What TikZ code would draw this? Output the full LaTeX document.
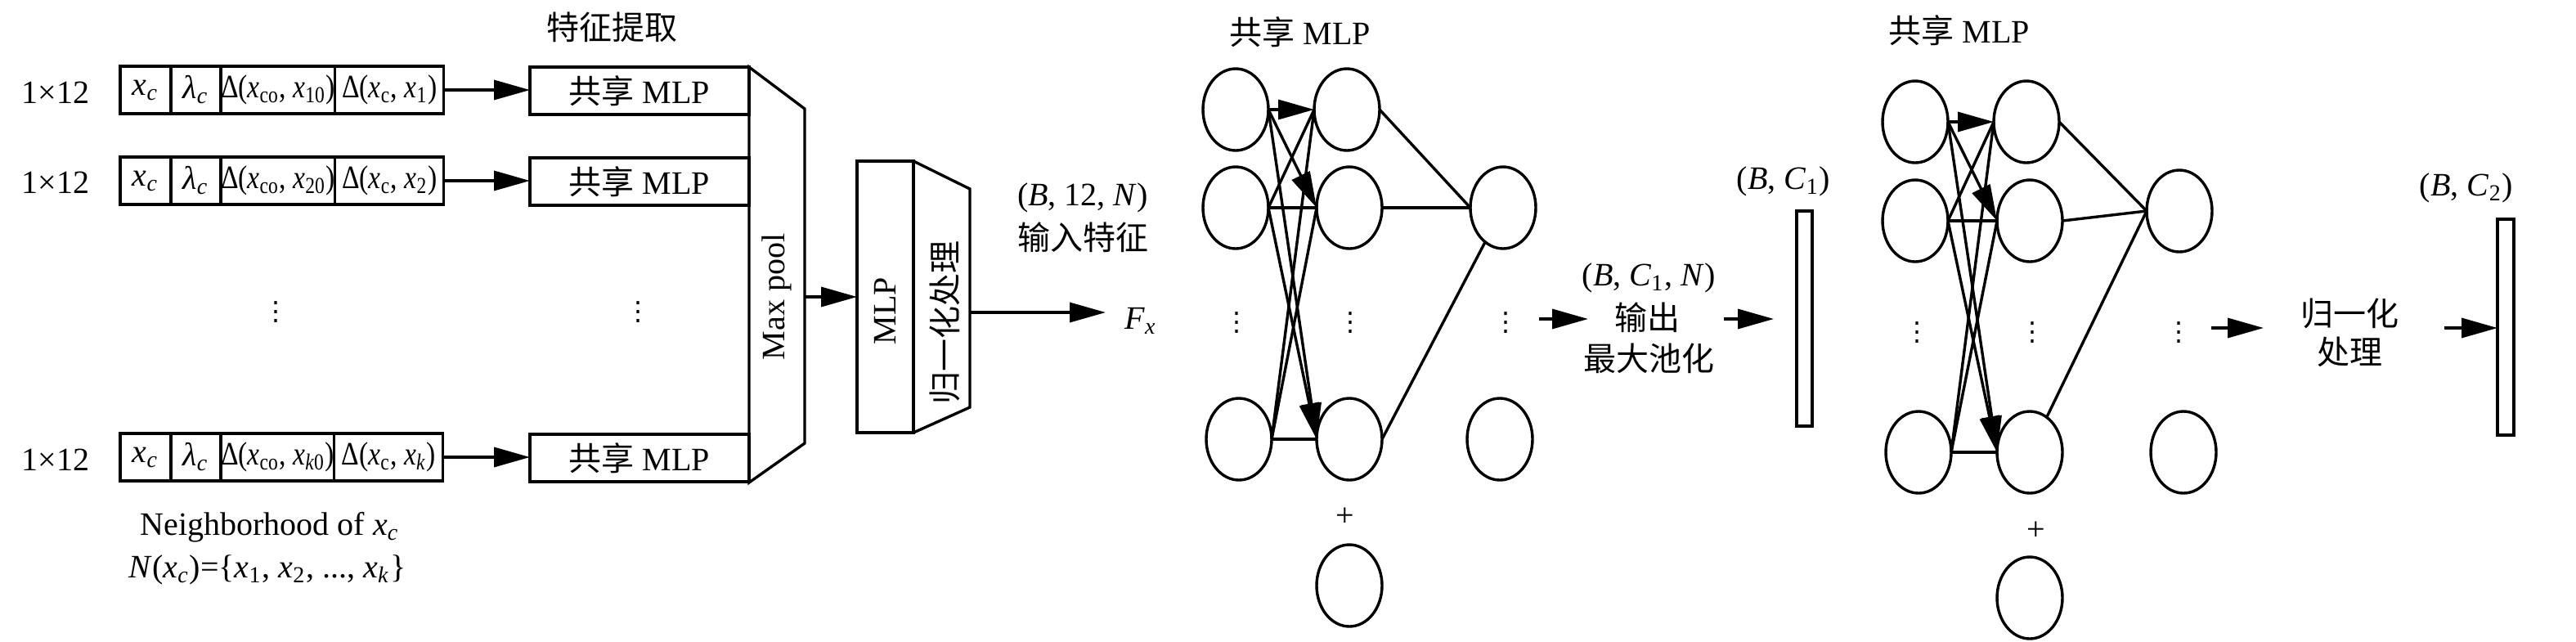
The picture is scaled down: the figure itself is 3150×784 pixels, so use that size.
\documentclass[tikz,border=0pt]{standalone}
\usepackage{graphicx}
\usepackage{fontspec}
\setmainfont{Liberation Serif}
\newfontfamily\cjk{Noto Sans CJK SC}
\newfontfamily\dvs{DejaVu Sans}
\usetikzlibrary{arrows.meta,shapes.geometric}
\newcommand{\vi}[1]{\textit{#1}}
\newcommand{\sbs}[1]{\textsubscript{#1}}
\newcommand{\cond}[1]{\scalebox{0.84}[1]{#1}}
\newcommand{\vdts}{{\dvs\fontsize{8}{8}\selectfont ⋮}}
\tikzset{
  lw/.style={line width=0.85pt},
  box/.style={draw, lw, inner sep=0pt, outer sep=0pt, minimum height=14.5pt},
  neuron/.style={draw, lw, ellipse, minimum width=20pt, minimum height=25pt, inner sep=0pt, outer sep=0pt},
  arr/.style={lw, -{Triangle[length=11pt,width=6pt]}},
  link/.style={lw},
  txt/.style={inner sep=0pt, outer sep=0pt, align=center},
  dts/.style={inner sep=0pt},
}
\begin{document}
\begin{tikzpicture}[x=0.25pt,y=-0.25pt,font=\fontsize{10}{12}\selectfont]
\useasboundingbox (0,0) rectangle (3150,784);

% ---------- feature extraction ----------
\node[txt] (title) at (748,33) {\cjk 特征提取};

% row 1
\node[txt] (l1) at (68,113) {1×12};
\node[box, minimum width=15.5pt, anchor=west] (r1a) at (147,110) {\vi{x}\sbs{\vi{c}}};
\node[box, minimum width=15.25pt, anchor=west] (r1b) at (r1a.east) {\vi{λ}\sbs{\vi{c}}};
\node[box, minimum width=33.75pt, anchor=west] (r1c) at (r1b.east) {\cond{Δ(\vi{x}\sbs{co}, \vi{x}\sbs{10})}};
\node[box, minimum width=33.25pt, anchor=west] (r1d) at (r1c.east) {\cond{Δ(\vi{x}\sbs{c}, \vi{x}\sbs{1})}};
\node[box, minimum width=67pt] (m1) at (782,111) {{\cjk 共享} MLP};
\draw[arr] (r1d.east) -- (r1d.east -| m1.west);

% row 2
\node[txt] (l2) at (68,223) {1×12};
\node[box, minimum width=15.5pt, anchor=west] (r2a) at (147,221) {\vi{x}\sbs{\vi{c}}};
\node[box, minimum width=15.25pt, anchor=west] (r2b) at (r2a.east) {\vi{λ}\sbs{\vi{c}}};
\node[box, minimum width=33.75pt, anchor=west] (r2c) at (r2b.east) {\cond{Δ(\vi{x}\sbs{co}, \vi{x}\sbs{20})}};
\node[box, minimum width=33.25pt, anchor=west] (r2d) at (r2c.east) {\cond{Δ(\vi{x}\sbs{c}, \vi{x}\sbs{2})}};
\node[box, minimum width=67pt] (m2) at (782,222) {{\cjk 共享} MLP};
\draw[arr] (r2d.east) -- (r2d.east -| m2.west);

% dots
\node[dts] (d1) at (337,382) {\vdts};
\node[dts] (d2) at (780,382) {\vdts};

% row k
\node[txt] (l3) at (68,562) {1×12};
\node[box, minimum width=15.5pt, anchor=west] (r3a) at (147,559) {\vi{x}\sbs{\vi{c}}};
\node[box, minimum width=15.25pt, anchor=west] (r3b) at (r3a.east) {\vi{λ}\sbs{\vi{c}}};
\node[box, minimum width=33.75pt, anchor=west] (r3c) at (r3b.east) {\cond{Δ(\vi{x}\sbs{co}, \vi{x}\sbs{\vi{k}0})}};
\node[box, minimum width=33.25pt, anchor=west] (r3d) at (r3c.east) {\cond{Δ(\vi{x}\sbs{c}, \vi{x}\sbs{\vi{k}})}};
\node[box, minimum width=67pt] (m3) at (782,560) {{\cjk 共享} MLP};
\draw[arr] (r3d.east) -- (r3d.east -| m3.west);

\node[txt] (nb1) at (330,645) {Neighborhood of \vi{x}\sbs{\vi{c}}};
\node[txt] (nb2) at (327,697) {\vi{N}(\vi{x}\sbs{\vi{c}})=\{\vi{x}\sbs{1}, \vi{x}\sbs{2}, ..., \vi{x}\sbs{\vi{k}}\}};

% max pool
\draw[lw, line join=miter] (916,82) -- (984,133) -- (984,542) -- (916,590) -- cycle;
\node[txt, rotate=90] (mp) at (950,363) {Max pool};
\coordinate (mpout) at (984,363);

% MLP + normalisation
\node[box, minimum width=17.25pt, minimum height=83pt] (mlp) at (1082.5,363) {};
\node[txt, rotate=90] (mlpt) at (1082,380) {MLP};
\draw[lw, line join=miter] (mlp.north east) -- (1186,231) -- (1186,498) -- (mlp.south east);
\node[txt, rotate=90] (norm1) at (1155,394) {\cjk 归一化处理};
\draw[arr] (mpout) -- (mpout -| mlp.west);

\coordinate (nout) at (1186,382);
\node[txt] (fx) at (1395,392) {\vi{F}\sbs{\vi{x}}};
\coordinate (fxin) at (1352,382);
\draw[arr] (nout) -- (fxin);
\node[txt] (in1) at (1324,242) {(\vi{B}, 12, \vi{N})};
\node[txt] (in2) at (1324,290) {\cjk 输入特征};

% ---------- network 1 ----------
\node[txt] (n1t) at (1590,39) {{\cjk 共享} MLP};
\node[neuron] (a1) at (1511,134) {};
\node[neuron] (a2) at (1511,254) {};
\node[neuron] (a3) at (1515,537) {};
\node[neuron] (b1) at (1647,134) {};
\node[neuron] (b2) at (1650,254) {};
\node[neuron] (b3) at (1650,537) {};
\node[neuron] (c2) at (1838,254) {};
\node[neuron] (c3) at (1834,537) {};
\node[neuron] (bb) at (1650,716) {};
\node[txt] (plus1) at (1645,632) {+};
\node[dts] (da) at (1512,395) {\vdts};
\node[dts] (db) at (1651,395) {\vdts};
\node[dts] (dc) at (1841,395) {\vdts};

\draw[arr] (a1.east) -- (b1.west);
\draw[arr] (a1.east) -- (b2.west);
\draw[arr] (a1.east) -- (b3.west);
\draw[link] (a2.east) -- (b1.west);
\draw[link] (a2.east) -- (b2.west);
\draw[arr] (a2.east) -- (b3.west);
\draw[link] (a3.east) -- (b1.west);
\draw[link] (a3.east) -- (b2.west);
\draw[link] (a3.east) -- (b3.west);
\draw[link] (b1.east) -- (c2.west);
\draw[link] (b2.east) -- (c2.west);
\draw[link] (b3.east) -- (c2);

\coordinate (o1s) at (1882,390);
\coordinate (o1e) at (1942,390);
\draw[arr] (o1s) -- (o1e);
\node[txt] (o1a) at (2016,340) {(\vi{B}, \vi{C}\sbs{1}, \vi{N})};
\node[txt] (o1b) at (2014,388) {\cjk 输出};
\node[txt] (o1c) at (2016,438) {\cjk 最大池化};
\coordinate (o2s) at (2108,390);
\coordinate (o2e) at (2169,390);
\draw[arr] (o2s) -- (o2e);

\node[txt] (bc1) at (2181,222) {(\vi{B}, \vi{C}\sbs{1})};
\node[box, minimum width=4.75pt, minimum height=65.75pt] (bar1) at (2206.5,389.5) {};

% ---------- network 2 ----------
\node[txt] (n2t) at (2396,37) {{\cjk 共享} MLP};
\node[neuron] (p1) at (2342,149) {};
\node[neuron] (p2) at (2342,270) {};
\node[neuron] (p3) at (2346,553) {};
\node[neuron] (q1) at (2478,149) {};
\node[neuron] (q2) at (2482,270) {};
\node[neuron] (q3) at (2482,553) {};
\node[neuron] (s2) at (2665,258) {};
\node[neuron] (s3) at (2670,553) {};
\node[neuron] (qb) at (2482,731) {};
\node[txt] (plus2) at (2490,649) {+};
\node[dts] (dp) at (2344,407) {\vdts};
\node[dts] (dq) at (2485,407) {\vdts};
\node[dts] (ds) at (2664,407) {\vdts};

\draw[arr] (p1.east) -- (q1.west);
\draw[arr] (p1.east) -- (q2.west);
\draw[arr] (p1.east) -- (q3.west);
\draw[link] (p2.east) -- (q1.west);
\draw[link] (p2.east) -- (q2.west);
\draw[arr] (p2.east) -- (q3.west);
\draw[link] (p3.east) -- (q1.west);
\draw[link] (p3.east) -- (q2.west);
\draw[link] (p3.east) -- (q3.west);
\draw[link] (q1.east) -- (s2.west);
\draw[link] (q2.east) -- (s2.west);
\draw[link] (q3) -- (s2.west);

\coordinate (o3s) at (2704,401);
\coordinate (o3e) at (2768,401);
\draw[arr] (o3s) -- (o3e);
\node[txt] (nm1) at (2873,383) {\cjk 归一化};
\node[txt] (nm2) at (2873,430) {\cjk 处理};
\node[box, minimum width=5pt, minimum height=66pt] (bar2) at (3064,400) {};
\coordinate (o4s) at (2989,401);
\draw[arr] (o4s) -- (o4s -| bar2.west);
\node[txt] (bc2) at (3016,230) {(\vi{B}, \vi{C}\sbs{2})};
\end{tikzpicture}
\end{document}
